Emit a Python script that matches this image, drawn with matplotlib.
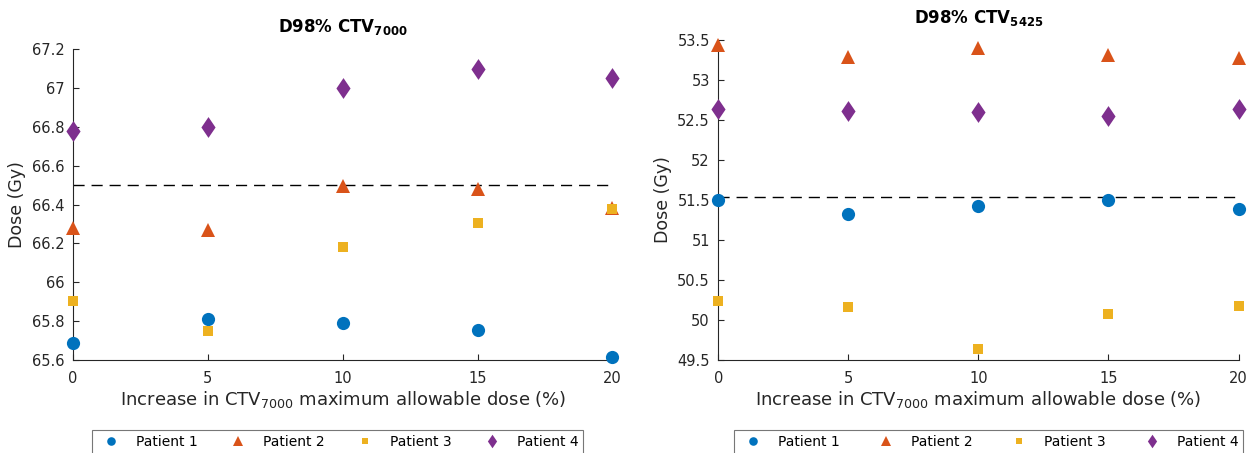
import matplotlib
matplotlib.use('Agg')
from matplotlib import pyplot as plt

plt.rcParams['font.family'] = ['DejaVu Sans']
plt.rcParams['mathtext.fontset'] = 'custom'
plt.rcParams['mathtext.rm'] = 'DejaVu Sans'
plt.rcParams['mathtext.bf'] = 'DejaVu Sans:bold'

# percentage increase in CTV7000 max allowable dose
increase = [0, 5, 10, 15, 20]
patients = ['Patient 1', 'Patient 2', 'Patient 3', 'Patient 4']

# D98% of CTV7000 (Gy)
ctv7000 = {
    'Patient 1': [65.69, 65.81, 65.79, 65.755, 65.615],
    'Patient 2': [66.28, 66.27, 66.495, 66.48, 66.38],
    'Patient 3': [65.905, 65.75, 66.18, 66.305, 66.375],
    'Patient 4': [66.78, 66.80, 67.0, 67.095, 67.05],
}
# D98% of CTV5425 (Gy)
ctv5425 = {
    'Patient 1': [51.50, 51.32, 51.43, 51.50, 51.39],
    'Patient 2': [53.43, 53.28, 53.40, 53.31, 53.27],
    'Patient 3': [50.24, 50.16, 49.64, 50.07, 50.18],
    'Patient 4': [52.64, 52.61, 52.60, 52.55, 52.64],
}
# 95% of prescription
limit7000 = 66.5
limit5425 = 51.54

colors = ['#0072BD', '#D95319', '#EDB120', '#7E2F8E']
diamond = [(0, 1), (0.68, 0), (0, -1), (-0.68, 0), (0, 1)]
markers = ['o', '^', 's', diamond]
sizes = [9.5, 10, 7.5, 15]
axcol = '#262626'

fig = plt.figure(figsize=(12.6, 4.53), dpi=100)
ax1 = fig.add_axes([0.058, 0.205, 0.428, 0.687])
ax2 = fig.add_axes([0.570, 0.205, 0.413, 0.707])


def draw(ax, data, limit, ylim, yticks, ylabels, title):
    handles = []
    for p, c, m, s in zip(patients, colors, markers, sizes):
        h, = ax.plot(increase, data[p], linestyle='none', marker=m, color=c,
                     markersize=s, markeredgewidth=0, clip_on=False,
                     zorder=3, label=p)
        handles.append(h)
    ax.axhline(limit, color='black', linestyle=(0, (8, 5)), linewidth=1, zorder=2)
    ax.set_xlim(0, 20)
    ax.set_ylim(*ylim)
    ax.set_xticks(increase)
    ax.set_yticks(yticks)
    ax.set_yticklabels(ylabels)
    for side in ['top', 'right']:
        ax.spines[side].set_visible(False)
    for side in ['left', 'bottom']:
        ax.spines[side].set_color(axcol)
    ax.tick_params(direction='in', colors=axcol, labelsize=10.5, length=4, pad=6)
    ax.tick_params(axis='x', pad=8)
    ax.set_xlabel(r'Increase in CTV$_{7000}$ maximum allowable dose (%)',
                  fontsize=13, color=axcol, labelpad=2)
    ax.set_ylabel('Dose (Gy)', fontsize=12.5, color=axcol, labelpad=4)
    ax.set_title(title, fontsize=12, fontweight='bold', pad=12)
    return handles


h = draw(ax1, ctv7000, limit7000, (65.6, 67.2),
         [65.6, 65.8, 66, 66.2, 66.4, 66.6, 66.8, 67, 67.2],
         ['65.6', '65.8', '66', '66.2', '66.4', '66.6', '66.8', '67', '67.2'],
         r'D98% CTV$_{\mathbf{7000}}$')
draw(ax2, ctv5425, limit5425, (49.5, 53.5),
     [49.5, 50, 50.5, 51, 51.5, 52, 52.5, 53, 53.5],
     ['49.5', '50', '50.5', '51', '51.5', '52', '52.5', '53', '53.5'],
     r'D98% CTV$_{\mathbf{5425}}$')

for x0, w in [(85 / 1260, 505 / 1260), (727 / 1260, 523 / 1260)]:
    leg = fig.legend(handles=h, loc='upper left', ncol=4, mode='expand',
                     bbox_to_anchor=(x0, 0.066, w, 0.0), frameon=True,
                     fancybox=False, fontsize=10, handletextpad=0.8,
                     markerscale=0.65, borderpad=0.35)
    leg.get_frame().set_edgecolor('#555555')
    leg.get_frame().set_linewidth(0.8)

fig.savefig('out.png', dpi=100)
